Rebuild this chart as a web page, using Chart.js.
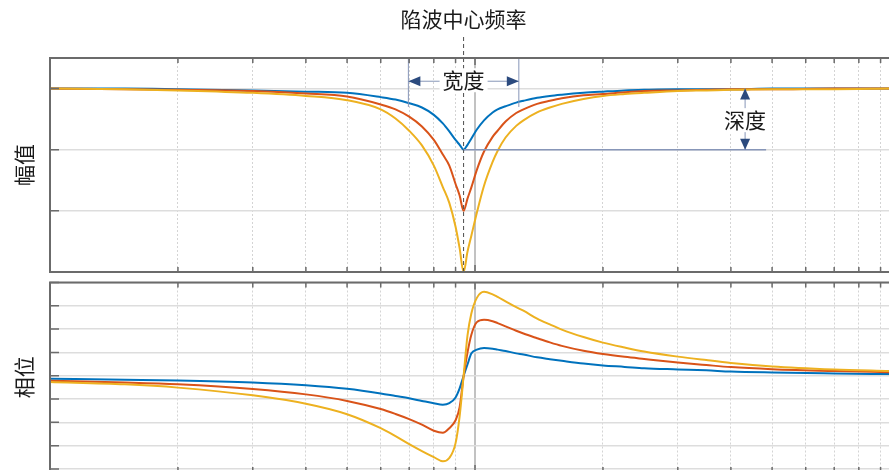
<!DOCTYPE html>
<html>
<head>
<meta charset="utf-8">
<script src="https://cdn.jsdelivr.net/npm/chart.js@4.4.1/dist/chart.umd.min.js"></script>
<style>
  html, body { margin: 0; padding: 0; background: #fff; overflow: hidden; }
  #wrap { position: relative; width: 889px; height: 470px; overflow: hidden; }
  #mag { position: absolute; left: 0; top: 0; }
  #phase { position: absolute; left: 0; top: 276px; }
</style>
</head>
<body>
<div id="wrap">
  <canvas id="mag" width="889" height="276"></canvas>
  <canvas id="phase" width="889" height="196"></canvas>
</div>
<script>
// frequency points (Hz, log axis)
const freqs = [10, 15, 20, 30, 40, 50, 60, 65, 70, 75, 80, 84, 87, 90, 92, 94, 96, 98, 101, 105, 110, 113, 118, 125, 130, 140, 150, 160, 180, 200, 225, 250, 300, 350, 400, 500, 700, 942];

// magnitude, three notch depths
const magBlue   = [3.00, 3.00, 2.99, 2.97, 2.95, 2.93, 2.86, 2.82, 2.76, 2.69, 2.57, 2.43, 2.30, 2.16, 2.08, 2.00,
                   2.08, 2.18, 2.33, 2.48, 2.61, 2.66, 2.71, 2.77, 2.80, 2.85, 2.88, 2.90, 2.93, 2.95, 2.97, 2.98, 2.99, 2.99, 2.99, 3.00, 3.00, 3.00];
const magRed    = [3.00, 2.99, 2.98, 2.96, 2.92, 2.87, 2.74, 2.66, 2.54, 2.38, 2.16, 1.92, 1.74, 1.44, 1.25, 1.00,
                   1.20, 1.38, 1.67, 1.97, 2.21, 2.31, 2.46, 2.60, 2.66, 2.75, 2.80, 2.84, 2.89, 2.91, 2.94, 2.96, 2.97, 2.98, 2.99, 2.99, 3.00, 3.00];
const magYellow = [3.00, 2.99, 2.97, 2.93, 2.88, 2.81, 2.66, 2.51, 2.31, 2.07, 1.74, 1.39, 1.13, 0.74, 0.39, 0.00,
                   0.33, 0.59, 0.97, 1.41, 1.80, 1.98, 2.20, 2.39, 2.48, 2.61, 2.69, 2.75, 2.83, 2.88, 2.91, 2.93, 2.96, 2.97, 2.98, 2.99, 2.99, 3.00];

// phase
const phaseBlue   = [-0.13, -0.17, -0.20, -0.29, -0.41, -0.56, -0.76, -0.87, -0.97, -1.08, -1.18, -1.24, -1.18, -0.93, -0.54, -0.01,
                     0.48, 0.95, 1.12, 1.19, 1.16, 1.12, 1.06, 0.96, 0.91, 0.79, 0.71, 0.64, 0.52, 0.44, 0.38, 0.32, 0.27, 0.23, 0.18, 0.14, 0.10, 0.07];
const phaseRed    = [-0.21, -0.29, -0.37, -0.57, -0.80, -1.08, -1.43, -1.64, -1.86, -2.10, -2.36, -2.45, -2.25, -1.91, -1.35, -0.03,
                     0.99, 1.75, 2.30, 2.40, 2.34, 2.26, 2.12, 1.93, 1.81, 1.61, 1.43, 1.28, 1.07, 0.93, 0.81, 0.72, 0.57, 0.46, 0.37, 0.28, 0.20, 0.15];
const phaseYellow = [-0.27, -0.37, -0.51, -0.84, -1.20, -1.65, -2.25, -2.59, -2.93, -3.23, -3.49, -3.67, -3.53, -2.89, -1.74, -0.01,
                     1.72, 2.66, 3.34, 3.60, 3.49, 3.38, 3.19, 2.94, 2.79, 2.45, 2.20, 1.98, 1.66, 1.42, 1.21, 1.04, 0.82, 0.67, 0.55, 0.40, 0.27, 0.20];

// axes
const gridFreqs = [10, 20, 30, 40, 50, 60, 70, 80, 90, 100, 200, 300, 400, 500, 600, 700, 800, 900];
const freqRange = [10, 942];
const magTicks = [0, 1, 2, 3];
const magRange = [0, 3.5];
const phaseTicks = [-4, -3, -2, -1, 0, 1, 2, 3, 4];
const phaseRange = [-4.13, 4];

// annotations
const centerFreq = 94;
const widthFreqs = [69.7, 126.8];
const widthLevel = 3.12;
const widthLineBottom = 2.7;
const depthFreq = 432;
const depthLineEnd = 484;
const depthTop = 3;
const depthBottom = 2;

const COLORS = ['#0072BD', '#D95319', '#EDB120'];
const FONT = "'Noto Sans CJK SC', 'Noto Sans', sans-serif";

function toPoints(ys) {
  return freqs.map((f, i) => ({ x: f, y: ys[i] }));
}

function makeDatasets(series) {
  return series.map((ys, i) => ({
    data: toPoints(ys),
    borderColor: COLORS[i],
    borderWidth: 2,
    pointRadius: 0,
    cubicInterpolationMode: 'monotone',
    fill: false,
  })).reverse();
}

const isDecade = c => c.tick && c.tick.value === 100;

// MATLAB-like box with inward tick marks
const framePlugin = {
  id: 'frame',
  afterDatasetsDraw(chart) {
    const { ctx, chartArea: a, scales: { x, y } } = chart;
    ctx.save();
    ctx.strokeStyle = '#6b6b6b';
    ctx.lineWidth = 1.5;
    ctx.beginPath();
    x.ticks.forEach(t => {
      if (t.value === freqRange[0]) return;
      const px = x.getPixelForValue(t.value);
      const len = t.value === 100 ? 7 : 5;
      ctx.moveTo(px, a.top); ctx.lineTo(px, a.top + len);
      ctx.moveTo(px, a.bottom); ctx.lineTo(px, a.bottom - len);
    });
    y.ticks.forEach(t => {
      const py = y.getPixelForValue(t.value);
      ctx.moveTo(a.left, py); ctx.lineTo(a.left + 9, py);
    });
    ctx.stroke();
    ctx.lineWidth = 2;
    ctx.beginPath();
    ctx.moveTo(a.right + 2, a.top);
    ctx.lineTo(a.left, a.top);
    ctx.lineTo(a.left, a.bottom);
    ctx.lineTo(a.right + 2, a.bottom);
    ctx.stroke();
    ctx.restore();
  }
};

function arrowHead(ctx, tx, ty, dir, len, half) {
  ctx.beginPath();
  if (dir === 'left' || dir === 'right') {
    const s = dir === 'left' ? 1 : -1;
    ctx.moveTo(tx, ty);
    ctx.lineTo(tx + s * len, ty - half);
    ctx.lineTo(tx + s * len, ty + half);
  } else {
    const s = dir === 'up' ? 1 : -1;
    ctx.moveTo(tx, ty);
    ctx.lineTo(tx - half, ty + s * len);
    ctx.lineTo(tx + half, ty + s * len);
  }
  ctx.closePath();
  ctx.fill();
}

function labelBox(ctx, text, cx, cy) {
  ctx.font = '21px ' + FONT;
  const w = ctx.measureText(text).width;
  ctx.fillStyle = '#fff';
  ctx.fillRect(cx - w / 2 - 3, cy - 12, w + 6, 24);
  ctx.fillStyle = '#1a1a1a';
  ctx.textAlign = 'center';
  ctx.textBaseline = 'middle';
  ctx.fillText(text, cx, cy);
}

const notchNotes = {
  id: 'notchNotes',
  afterDatasetsDraw(chart) {
    const { ctx, chartArea: a, scales: { x, y } } = chart;
    const xc = x.getPixelForValue(centerFreq);
    const xl = x.getPixelForValue(widthFreqs[0]);
    const xr = x.getPixelForValue(widthFreqs[1]);
    const yw = y.getPixelForValue(widthLevel);
    const xd = x.getPixelForValue(depthFreq);
    const y1 = y.getPixelForValue(depthTop);
    const y2 = y.getPixelForValue(depthBottom);
    ctx.save();

    // title + center line
    ctx.font = '21px ' + FONT;
    ctx.fillStyle = '#1a1a1a';
    ctx.textAlign = 'center';
    ctx.textBaseline = 'middle';
    ctx.fillText('陷波中心频率', xc, 19);
    ctx.strokeStyle = '#4d4d4d';
    ctx.lineWidth = 1;
    ctx.setLineDash([4, 3]);
    ctx.beginPath();
    ctx.moveTo(xc, 37); ctx.lineTo(xc, a.bottom);
    ctx.stroke();
    ctx.setLineDash([]);

    // width
    ctx.strokeStyle = '#8796b8';
    ctx.lineWidth = 1;
    ctx.beginPath();
    ctx.moveTo(xl, a.top); ctx.lineTo(xl, y.getPixelForValue(widthLineBottom));
    ctx.moveTo(xr, a.top); ctx.lineTo(xr, y.getPixelForValue(widthLineBottom));
    ctx.moveTo(xl, yw); ctx.lineTo(xr, yw);
    ctx.stroke();
    ctx.fillStyle = '#2b4a7e';
    arrowHead(ctx, xl, yw, 'left', 12, 5);
    arrowHead(ctx, xr, yw, 'right', 12, 5);
    labelBox(ctx, '宽度', xc, yw - 1);

    // depth
    ctx.strokeStyle = '#8796b8';
    ctx.lineWidth = 1.5;
    ctx.beginPath();
    ctx.moveTo(xc, y2); ctx.lineTo(x.getPixelForValue(depthLineEnd), y2);
    ctx.stroke();
    ctx.lineWidth = 1;
    ctx.beginPath();
    ctx.moveTo(xd, y1); ctx.lineTo(xd, y2);
    ctx.stroke();
    ctx.fillStyle = '#2b4a7e';
    arrowHead(ctx, xd, y1, 'up', 11, 5);
    arrowHead(ctx, xd, y2, 'down', 11, 5);
    labelBox(ctx, '深度', xd, (y1 + y2) / 2 + 1);

    ctx.restore();
  }
};

function axisOptions(title, ticks, range, titlePad) {
  return {
    x: {
      type: 'logarithmic',
      min: freqRange[0],
      max: freqRange[1],
      afterBuildTicks: s => { s.ticks = gridFreqs.map(v => ({ value: v })); },
      ticks: { display: false },
      grid: {
        drawTicks: false,
        color: c => isDecade(c) ? '#c2c2c2' : '#d4d4d4',
        lineWidth: c => isDecade(c) ? 2 : 1,
      },
      border: { display: false, dash: c => isDecade(c) ? [] : [2, 2] },
    },
    y: {
      min: range[0],
      max: range[1],
      afterBuildTicks: s => { s.ticks = ticks.map(v => ({ value: v })); },
      ticks: { display: false },
      grid: { drawTicks: false, color: '#dddddd', lineWidth: 1.5 },
      border: { display: false },
      title: {
        display: true,
        text: title,
        color: '#1a1a1a',
        font: { family: FONT, size: 21, lineHeight: 1.2 },
        padding: titlePad,
      },
    },
  };
}

function baseOptions(title, ticks, range, padding) {
  return {
    responsive: false,
    animation: false,
    events: [],
    layout: { padding: padding, autoPadding: false },
    plugins: { legend: { display: false }, tooltip: { enabled: false } },
    scales: axisOptions(title, ticks, range, { top: 11.4, bottom: 13.4 }),
  };
}

new Chart(document.getElementById('mag'), {
  type: 'line',
  data: { datasets: makeDatasets([magBlue, magRed, magYellow]) },
  options: baseOptions('幅值', magTicks, magRange, { left: 0, right: 0, top: 58, bottom: 4 }),
  plugins: [notchNotes, framePlugin],
});

new Chart(document.getElementById('phase'), {
  type: 'line',
  data: { datasets: makeDatasets([phaseBlue, phaseRed, phaseYellow]) },
  options: baseOptions('相位', phaseTicks, phaseRange, { left: 0, right: 0, top: 6.5, bottom: 0 }),
  plugins: [framePlugin],
});
</script>
</body>
</html>
